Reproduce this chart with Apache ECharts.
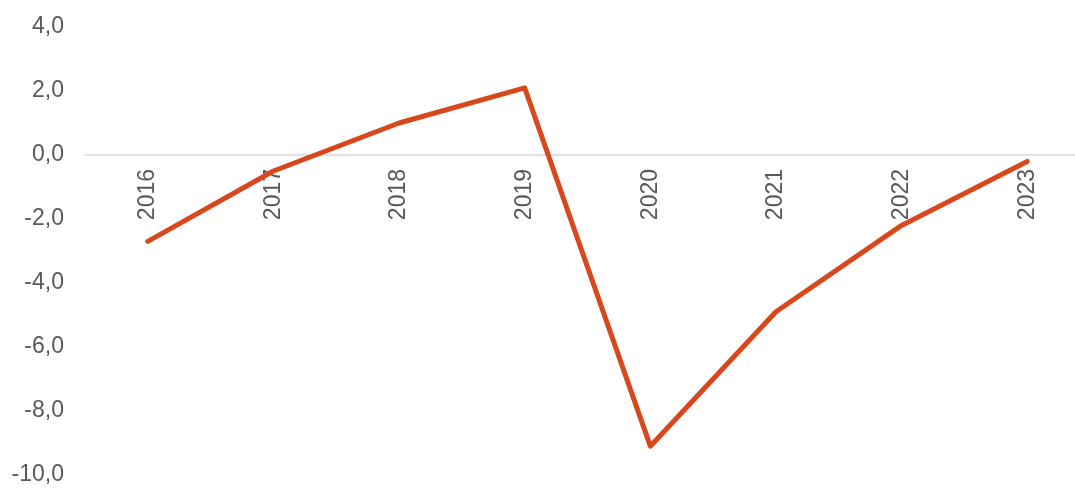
<!DOCTYPE html>
<html>
<head>
<meta charset="utf-8">
<script src="https://cdn.jsdelivr.net/npm/echarts@6/dist/echarts.min.js"></script>
<style>
  html, body { margin: 0; padding: 0; background: #ffffff; }
  #chart { width: 1075px; height: 489px; }
</style>
</head>
<body>
<div id="chart"></div>
<script>
// Annual change, 2016–2023
const years = ['2016', '2017', '2018', '2019', '2020', '2021', '2022', '2023'];
const values = [-2.7, -0.5, 1.0, 2.1, -9.1, -4.9, -2.2, -0.2];

const yMin = -10;
const yMax = 4;
const yStep = 2;

const W = 1075, H = 489;
const gridTop = 27, gridBottom = 14;
// Lift the category axis (line and labels) up to the zero level
const plotH = H - gridTop - gridBottom;
const zeroOffset = (0 - yMin) / (yMax - yMin) * plotH;

const chart = echarts.init(document.getElementById('chart'), null, { renderer: 'canvas' });

chart.setOption({
  animation: false,
  backgroundColor: '#ffffff',
  grid: { left: 85, right: -15, top: gridTop, bottom: gridBottom, containLabel: false, outerBoundsMode: 'none' },
  xAxis: {
    type: 'category',
    data: years,
    boundaryGap: true,
    position: 'bottom',
    offset: -zeroOffset,
    axisLine: { onZero: false, lineStyle: { color: '#d9d9d9', width: 1.5 } },
    axisTick: { show: false },
    axisLabel: {
      rotate: 90,
      margin: 14,
      color: '#595959',
      fontFamily: 'Liberation Sans, Arial, sans-serif',
      fontSize: 23
    },
    splitLine: { show: false }
  },
  yAxis: {
    type: 'value',
    min: yMin,
    max: yMax,
    interval: yStep,
    axisLine: { show: false },
    axisTick: { show: false },
    splitLine: { show: false },
    axisLabel: {
      margin: 21,
      color: '#595959',
      fontFamily: 'Liberation Sans, Arial, sans-serif',
      fontSize: 23,
      formatter: v => v.toFixed(1).replace('.', ',')
    }
  },
  series: [{
    type: 'line',
    data: values,
    symbol: 'none',
    z: 3,
    lineStyle: { color: '#d9481c', width: 5, cap: 'round', join: 'round' }
  }]
});
</script>
</body>
</html>
